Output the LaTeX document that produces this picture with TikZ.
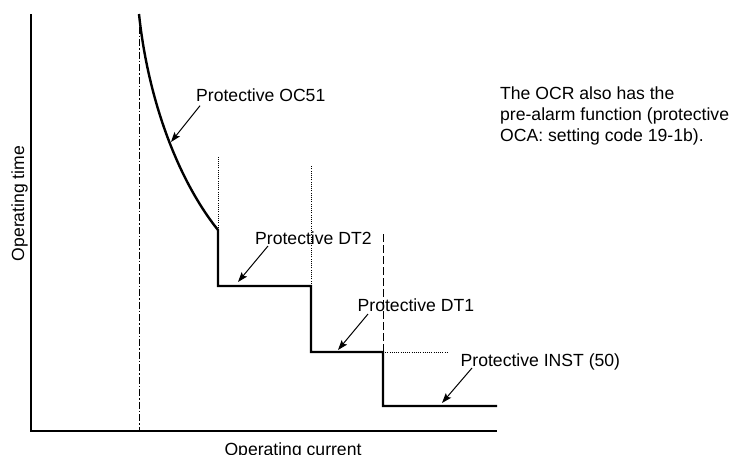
\documentclass[tikz,border=0pt]{standalone}
\usepackage{fontspec}
\setmainfont{Liberation Sans}
\usetikzlibrary{calc,positioning,arrows.meta}

\begin{document}
\begin{tikzpicture}[x=1pt,y=-1pt,>={Stealth[length=10pt,width=7pt,inset=2pt]},
  font=\fontsize{17.6}{21}\selectfont,
  curve/.style={line width=2.4pt,line join=miter},
  helper/.style={line width=0.8pt,dash pattern=on 1pt off 1.2pt},
  pointer/.style={->,line width=1pt},
  lbl/.style={anchor=base west,inner sep=0pt}]
  \useasboundingbox (0,0) rectangle (737,455);
  %
  \coordinate (origin) at (31,431);
  \coordinate (ytop) at (31,14);
  \coordinate (xend) at (497,431);
  \draw[line width=1.2pt] (ytop) -- (origin) -- (xend);
  \node[rotate=90,anchor=base,inner sep=0pt] (ylabel) at (24,203.5) {Operating time};
  \node[anchor=base,inner sep=0pt] (xlabel) at (293,455) {Operating current};
  %
  \coordinate (curvetop) at (139,14);
  \coordinate (curveend) at (218,230);
  \coordinate (dt2start) at (218,286);
  \coordinate (dt2end) at (311,286);
  \coordinate (dt1start) at (311,352);
  \coordinate (dt1end) at (383,352);
  \coordinate (inststart) at (383,406);
  \coordinate (instend) at (497,406);
  \coordinate (pickup) at (curvetop |- origin);
  %
  \draw[line width=0.8pt,dash pattern=on 7pt off 2pt on 1.5pt off 2pt] (curvetop) -- (pickup);
  \draw[helper] (curveend) -- ++(0,-73);
  \draw[helper] (dt2end) -- ++(0,-120);
  \draw[line width=0.8pt,dash pattern=on 8pt off 3pt] (dt1end) -- ++(0,-119);
  \draw[helper] (dt1end) -- ++(65,0);
  \draw[curve] (curvetop) .. controls (148,100) and (178,180) .. (curveend)
    -- (dt2start) -- (dt2end) -- (dt1start) -- (dt1end) -- (inststart) -- (instend);
  %
  \coordinate (oc51tip) at (171,142);
  \coordinate (dt2tip) at (238,282);
  \coordinate (dt1tip) at (338,350);
  \coordinate (insttip) at (442,403);
  \node[lbl] (oc51) at (196,101.7) {Protective OC51};
  \node[lbl] (dt2) at (255,244) {Protective DT2};
  \node[lbl] (dt1) at (357.5,311.7) {Protective DT1};
  \node[lbl] (inst) at (460.5,366) {Protective INST (50)};
  \draw[pointer] ($(oc51.base west)+(4,4)$) -- (oc51tip);
  \draw[pointer] ($(dt2.base west)+(13,2)$) -- (dt2tip);
  \draw[pointer] ($(dt1.base west)+(10.5,2.3)$) -- (dt1tip);
  \draw[pointer] ($(inst.base west)+(11.5,2)$) -- (insttip);
  %
  \node[lbl,align=left] (note) at (500,141)
    {The OCR also has the\\pre-alarm function (protective\\OCA: setting code 19-1b).};
\end{tikzpicture}
\end{document}
